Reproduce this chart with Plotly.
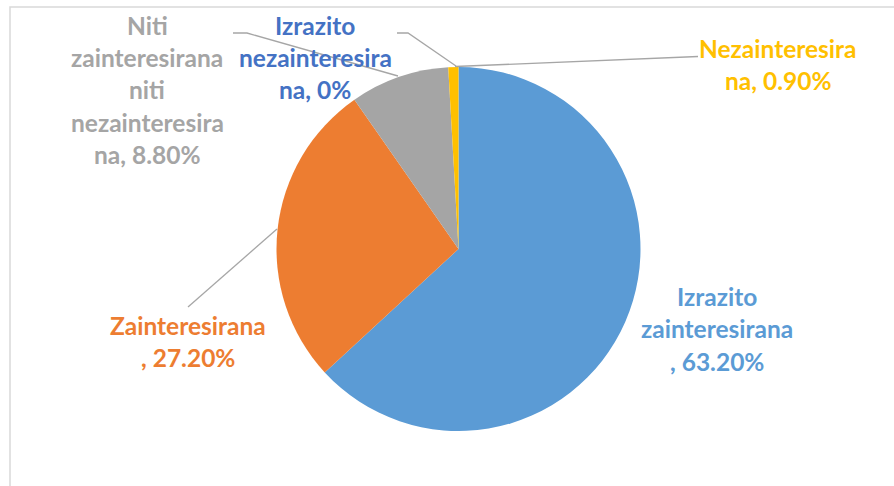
import plotly.graph_objects as go

# ---- data ----
categories = ["Izrazito zainteresirana", "Zainteresirana",
              "Niti zainteresirana niti nezainteresirana",
              "Izrazito nezainteresirana", "Nezainteresirana"]
values = [63.2, 27.2, 8.8, 0.0, 0.9]
label_lines = [
    ["Izrazito", "zainteresirana", ", {v}"],
    ["Zainteresirana", ", {v}"],
    ["Niti", "zainteresirana", "niti", "nezainteresira", "na, {v}"],
    ["Izrazito", "nezainteresira", "na, {v}"],
    ["Nezainteresira", "na, {v}"],
]
colors = ["#5B9BD5", "#ED7D31", "#A5A5A5", "#4472C4", "#FFC000"]

W, H = 894, 486
def px(x): return x / W
def py(y): return 1 - y / H

cx, cy, r = 458.5, 249, 182

fig = go.Figure(go.Pie(
    labels=categories, values=values, sort=False, direction="clockwise",
    rotation=0, marker=dict(colors=colors, line=dict(width=0)),
    textinfo="none", hoverinfo="label+percent", showlegend=False,
    domain=dict(x=[px(cx - r), px(cx + r)], y=[py(cy + r), py(cy - r)]),
))

def fmt(v):
    return "0%" if v == 0 else f"{v:.2f}%"

# label centers (pixels) and top line
label_pos = [(717, 296), (188, 325), (147, 25), (315, 25), (778, 48)]
line_h = 32.5
annotations = []
for lines, v, c, (lx, ly) in zip(label_lines, values, colors, label_pos):
    for i, t in enumerate(lines):
        annotations.append(dict(
            x=px(lx), y=py(ly + i * line_h), xref="paper", yref="paper",
            text=t.format(v=fmt(v)), showarrow=False, xanchor="center", yanchor="middle",
            font=dict(family="Lato", size=24.5, color=c, weight="bold")))

leader = "#A6A6A6"
paths = [
    "M {} {} L {} {} L {} {}".format(px(233), py(33), px(247), py(33), px(398), py(76)),
    "M {} {} L {} {} L {} {}".format(px(397), py(33), px(408), py(33), px(456), py(66)),
    "M {} {} L {} {}".format(px(698), py(56.5), px(455), py(66.5)),
    "M {} {} L {} {}".format(px(188), py(307), px(277), py(229)),
]
shapes = [dict(type="path", path=p, xref="paper", yref="paper",
               line=dict(color=leader, width=1.3)) for p in paths]
# chart-area border (top and left edges visible; the rest is cropped)
shapes.append(dict(type="path", xref="paper", yref="paper",
                   path="M {} {} L {} {} L {} {}".format(px(10), py(486), px(10), py(7), px(894), py(7)),
                   line=dict(color="#D9D9D9", width=1.5)))

fig.update_layout(
    width=W, height=H, margin=dict(l=0, r=0, t=0, b=0),
    paper_bgcolor="white", plot_bgcolor="white",
    annotations=annotations, shapes=shapes,
)
fig.write_html("out.html", config={"displayModeBar": False},
               post_script="document.body.style.margin='0';document.body.style.overflow='hidden';")
